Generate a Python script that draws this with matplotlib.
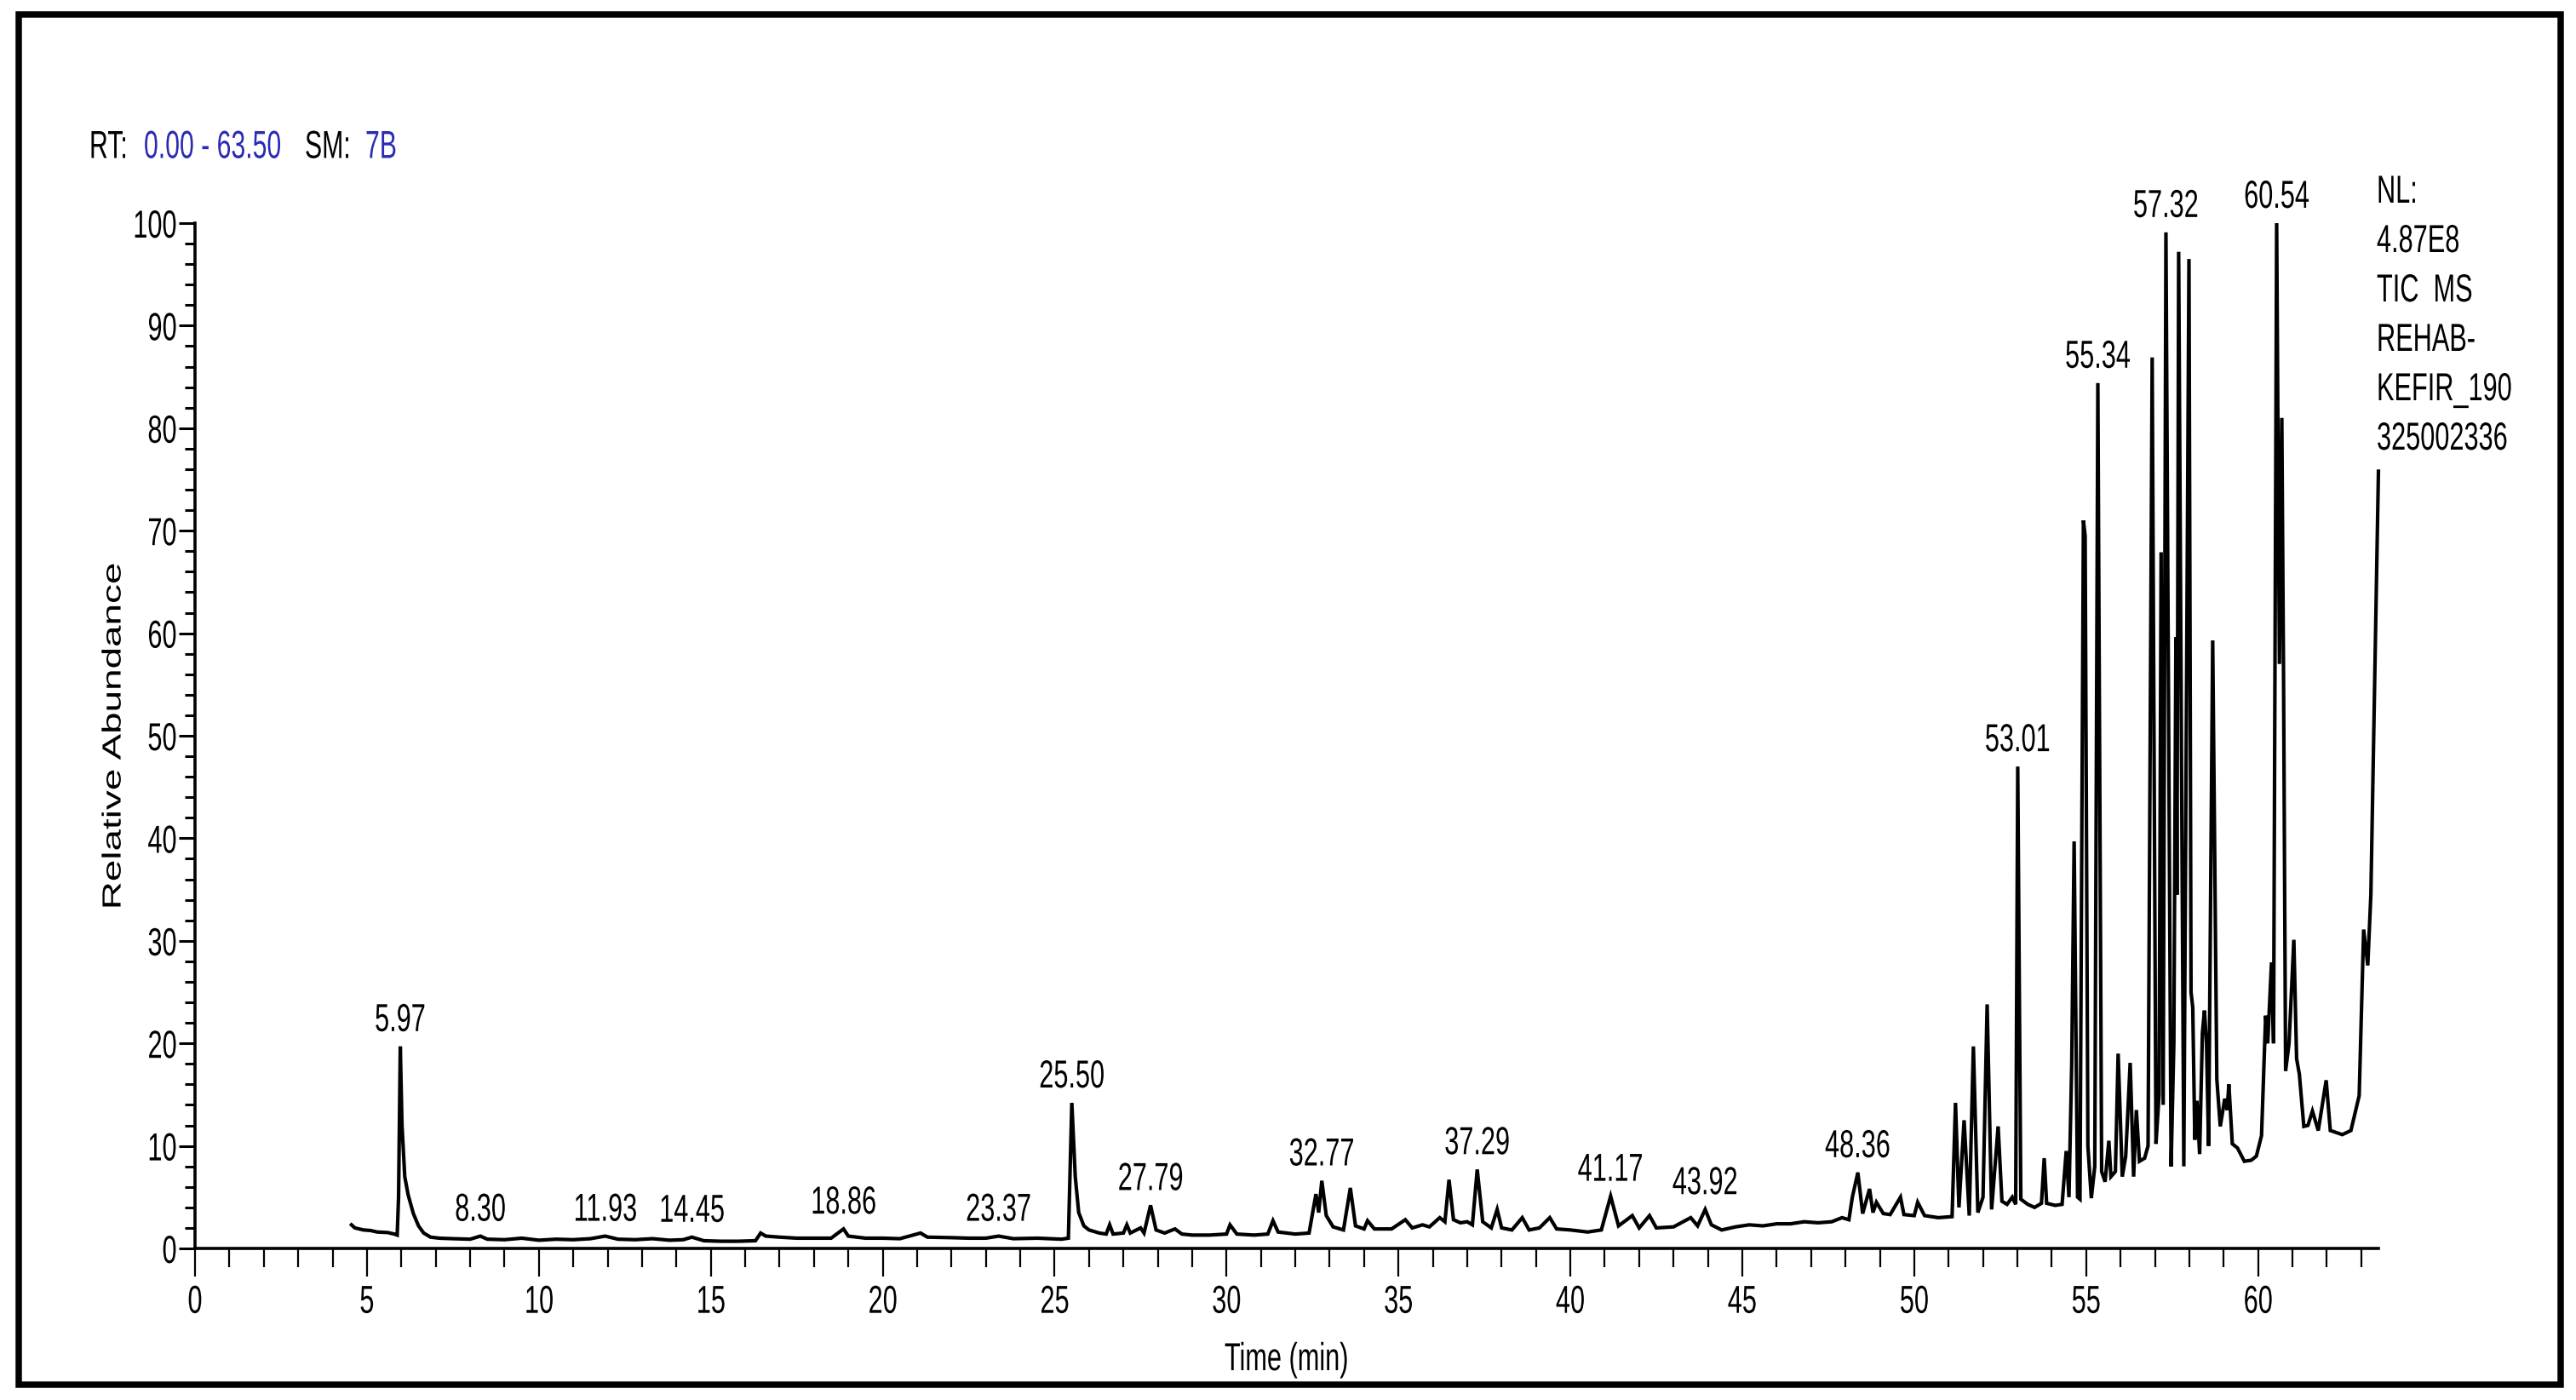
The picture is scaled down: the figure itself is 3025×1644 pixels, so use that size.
import matplotlib
matplotlib.use("Agg")
import matplotlib.pyplot as plt
from matplotlib.patches import Rectangle
from matplotlib.ticker import MultipleLocator
from matplotlib.patheffects import AbstractPathEffect
from matplotlib.transforms import Affine2D

# TIC trace (time in min, relative abundance in %)
time_min = [
    4.55, 4.65, 4.9, 5.1, 5.3, 5.6, 5.8, 5.88, 5.92, 5.97, 6.02, 6.1, 6.2, 6.35, 6.5, 6.65, 6.85, 7.1,
    7.5, 8.0, 8.30, 8.5, 9.0, 9.5, 10.0, 10.5, 11.0, 11.5, 11.93, 12.3, 12.8, 13.3, 13.8, 14.2, 14.45,
    14.8, 15.3, 15.8, 16.3, 16.45, 16.6, 17.0, 17.5, 18.0, 18.5, 18.86, 19.0, 19.5, 20.0, 20.5, 21.1,
    21.3, 22.0, 22.5, 23.0, 23.37, 23.8, 24.5, 25.2, 25.4, 25.5, 25.6, 25.7, 25.85, 26.0, 26.3, 26.5,
    26.6, 26.7, 27.0, 27.1, 27.2, 27.5, 27.6, 27.79, 27.95, 28.2, 28.5, 28.7, 29.0, 29.5, 30.0, 30.1,
    30.3, 30.8, 31.2, 31.35, 31.5, 32.0, 32.4, 32.6, 32.68, 32.77, 32.9, 33.1, 33.4, 33.6, 33.75, 34.0,
    34.1, 34.3, 34.8, 35.2, 35.4, 35.7, 35.9, 36.2, 36.35, 36.47, 36.6, 36.8, 37.0, 37.15, 37.29, 37.45,
    37.7, 37.87, 38.0, 38.3, 38.6, 38.8, 39.1, 39.4, 39.6, 40.0, 40.5, 40.9, 41.17, 41.4, 41.8, 42.0,
    42.3, 42.5, 43.0, 43.5, 43.7, 43.92, 44.1, 44.4, 44.8, 45.2, 45.6, 46.0, 46.4, 46.8, 47.2, 47.6,
    47.9, 48.1, 48.2, 48.36, 48.5, 48.7, 48.8, 48.9, 49.1, 49.3, 49.6, 49.7, 50.0, 50.1, 50.3, 50.7,
    51.1, 51.2, 51.3, 51.45, 51.6, 51.72, 51.85, 52.0, 52.12, 52.25, 52.44, 52.55, 52.7, 52.85, 52.95,
    53.01, 53.1, 53.3, 53.5, 53.7, 53.78, 53.85, 54.1, 54.3, 54.42, 54.5, 54.58, 54.65, 54.75, 54.82,
    54.92, 54.97, 55.05, 55.15, 55.25, 55.34, 55.45, 55.55, 55.66, 55.72, 55.85, 55.93, 56.05, 56.15,
    56.28, 56.38, 56.46, 56.55, 56.7, 56.8, 56.92, 57.03, 57.12, 57.18, 57.24, 57.32, 57.47, 57.55,
    57.61, 57.64, 57.69, 57.84, 57.99, 58.05, 58.1, 58.16, 58.22, 58.3, 58.38, 58.44, 58.5, 58.56,
    58.68, 58.8, 58.9, 59.03, 59.1, 59.15, 59.25, 59.4, 59.6, 59.8, 59.95, 60.1, 60.22, 60.28, 60.39,
    60.45, 60.54, 60.62, 60.69, 60.74, 60.8, 60.9, 61.04, 61.12, 61.2, 61.33, 61.45, 61.58, 61.75,
    61.98, 62.1, 62.45, 62.7, 62.94, 63.07, 63.19, 63.28, 63.5,
]
rel_abundance = [
    2.3, 2.0, 1.8, 1.75, 1.6, 1.55, 1.4, 1.3, 5.0, 19.7, 12.0, 7.0, 5.2, 3.4, 2.2, 1.5, 1.1, 1.0,
    0.95, 0.9, 1.2, 0.9, 0.85, 1.0, 0.8, 0.9, 0.85, 0.95, 1.2, 0.9, 0.85, 0.95, 0.8, 0.85, 1.1,
    0.75, 0.7, 0.7, 0.75, 1.5, 1.2, 1.1, 1.0, 1.0, 1.0, 1.9, 1.2, 1.0, 1.0, 0.95, 1.5,
    1.1, 1.05, 1.0, 1.0, 1.2, 0.95, 1.0, 0.9, 1.0, 14.2, 7.0, 3.5, 2.2, 1.8, 1.5, 1.4,
    2.3, 1.4, 1.5, 2.3, 1.5, 2.0, 1.5, 4.2, 1.8, 1.5, 1.9, 1.4, 1.3, 1.3, 1.4, 2.3,
    1.4, 1.3, 1.4, 2.7, 1.6, 1.4, 1.5, 5.3, 3.5, 6.6, 3.2, 2.1, 1.8, 5.9, 2.2, 1.9,
    2.7, 1.9, 1.9, 2.8, 2.0, 2.3, 2.1, 3.0, 2.6, 6.7, 2.8, 2.5, 2.6, 2.3, 7.7, 2.6,
    2.0, 3.8, 2.0, 1.8, 3.0, 1.8, 2.0, 3.0, 1.9, 1.8, 1.6, 1.8, 5.1, 2.2, 3.2, 2.0,
    3.2, 2.0, 2.1, 3.0, 2.2, 3.8, 2.3, 1.8, 2.1, 2.3, 2.2, 2.4, 2.4, 2.6, 2.5, 2.6,
    3.0, 2.8, 5.0, 7.4, 3.4, 5.8, 3.5, 4.5, 3.4, 3.3, 5.0, 3.3, 3.2, 4.5, 3.2, 3.0,
    3.1, 14.2, 4.0, 12.5, 3.2, 19.7, 3.5, 5.0, 23.8, 3.8, 11.9, 4.6, 4.3, 5.0, 4.3,
    47.0, 4.8, 4.3, 4.0, 4.4, 8.8, 4.4, 4.2, 4.3, 9.5, 5.0, 18.0, 39.7, 5.0, 4.8,
    71.0, 69.5, 10.0, 4.9, 8.0, 84.4, 7.5, 6.5, 10.5, 7.0, 7.5, 19.0, 7.0, 9.0,
    18.1, 7.0, 13.5, 8.5, 8.8, 10.0, 86.9, 10.2, 15.0, 67.9, 14.0, 99.1, 8.0, 20.0,
    59.6, 34.5, 97.2, 8.0, 96.5, 25.0, 23.5, 10.6, 14.4, 9.2, 21.0, 23.2, 20.0, 10.0,
    59.3, 16.5, 11.9, 14.6, 13.5, 16.0, 10.2, 9.8, 8.5, 8.6, 9.0, 11.0, 22.7, 20.0, 27.9,
    20.0, 100.0, 57.0, 81.0, 56.0, 17.3, 20.0, 30.1, 18.5, 17.0, 11.9, 12.0, 13.4, 11.5,
    16.4, 11.5, 11.1, 11.5, 14.9, 31.1, 27.6, 34.5, 75.8,
]

# labelled peak retention times
peak_rt = [5.97, 8.30, 11.93, 14.45, 18.86, 23.37, 25.50, 27.79, 32.77, 37.29,
           41.17, 43.92, 48.36, 53.01, 55.34, 57.32, 60.54]

nl_lines = ["NL:", "4.87E8", "TIC  MS", "REHAB-", "KEFIR_190", "325002336"]

W, H = 3025, 1644
FS = 33
SX = 0.67          # the instrument export is squashed horizontally
BLUE = '#2a2ab4'


class Squeeze(AbstractPathEffect):
    """Draw text glyphs scaled along local x (text direction) and/or local y."""

    def __init__(self, sx=1.0, sy=1.0, anchor='center'):
        super().__init__()
        self.sx = sx
        self.sy = sy
        self.anchor = anchor

    def draw_path(self, renderer, gc, tpath, affine, rgbFace=None):
        ext = tpath.get_extents()
        if self.anchor == 'left':
            x0 = 0.0
        elif self.anchor == 'right':
            x0 = ext.x1
        else:
            x0 = 0.5 * (ext.x0 + ext.x1)
        y0 = 36.0  # about half the cap height, in text-path units
        sq = Affine2D().translate(-x0, -y0).scale(self.sx, self.sy).translate(x0, y0)
        renderer.draw_path(gc, tpath, sq + affine, rgbFace)


plt.rcParams['font.family'] = ['Liberation Sans', 'DejaVu Sans']
plt.rcParams['font.size'] = FS

fig = plt.figure(figsize=(W / 100, H / 100), dpi=100)
fig.patch.set_facecolor('white')

# outer black frame
fig.patches.append(Rectangle((21.5 / W, 1 - 1626 / H), (3007 - 21.5) / W, (1626 - 17) / H,
                             transform=fig.transFigure, fill=False, edgecolor='black',
                             linewidth=5.4))

ax = fig.add_axes([229 / W, 1 - 1466 / H, (2793 - 229) / W, (1466 - 262) / H])
ax.plot(time_min, rel_abundance, color='black', linewidth=3.0, clip_on=False,
        solid_joinstyle='miter')

ax.set_xlim(0, 63.5)
ax.set_ylim(0, 100)
ax.spines['top'].set_visible(False)
ax.spines['right'].set_visible(False)
for s in ('left', 'bottom'):
    ax.spines[s].set_linewidth(2.6)

ax.xaxis.set_major_locator(MultipleLocator(5))
ax.xaxis.set_minor_locator(MultipleLocator(1))
ax.yaxis.set_major_locator(MultipleLocator(10))
ax.yaxis.set_minor_locator(MultipleLocator(2))
ax.tick_params(axis='x', which='major', length=24, width=1.6, pad=6, labelsize=FS)
ax.tick_params(axis='x', which='minor', length=16, width=1.6)
ax.tick_params(axis='y', which='major', length=14, width=2.2, pad=1, labelsize=FS)
ax.tick_params(axis='y', which='minor', length=9, width=2.2)
for lbl in ax.get_xticklabels():
    lbl.set_path_effects([Squeeze(SX, anchor='center')])
for lbl in ax.get_yticklabels():
    lbl.set_path_effects([Squeeze(SX, anchor='right')])

# peak labels sit just above each labelled apex
for rt in peak_rt:
    h = max(v for t, v in zip(time_min, rel_abundance) if abs(t - rt) < 0.06)
    ax.annotate(f"{rt:.2f}", xy=(rt, h), xytext=(0, 8), textcoords='offset pixels',
                ha='center', va='bottom', fontsize=FS, annotation_clip=False,
                path_effects=[Squeeze(SX, anchor='center')])

# header line: smaller nominal size, stretched back up to the instrument's tall glyphs
hy = 1 - 172 / H
hdr = dict(ha='left', va='center', fontsize=25, path_effects=[Squeeze(0.87, 1.32, 'left')])
fig.text(105 / W, hy, "RT:", color='black', **hdr)
fig.text(169 / W, hy, "0.00 - 63.50", color=BLUE, **hdr)
fig.text(358 / W, hy, "SM:", color='black', **hdr)
fig.text(429 / W, hy, "7B", color=BLUE, **hdr)

# NL block on the right
for i, line in enumerate(nl_lines):
    fig.text(2791 / W, 1 - (226 + 58 * i) / H, line, ha='left', va='center',
             path_effects=[Squeeze(SX, anchor='left')])

# rotated label: full length, thin strokes across
fig.text(135 / W, 1 - 864 / H, "Relative Abundance", rotation=90, ha='center', va='center',
         path_effects=[Squeeze(1.0, SX)])
fig.text(1511 / W, 1 - 1597 / H, "Time (min)", ha='center', va='center',
         path_effects=[Squeeze(SX, anchor='center')])

fig.savefig("out.png", dpi=100, facecolor='white')
